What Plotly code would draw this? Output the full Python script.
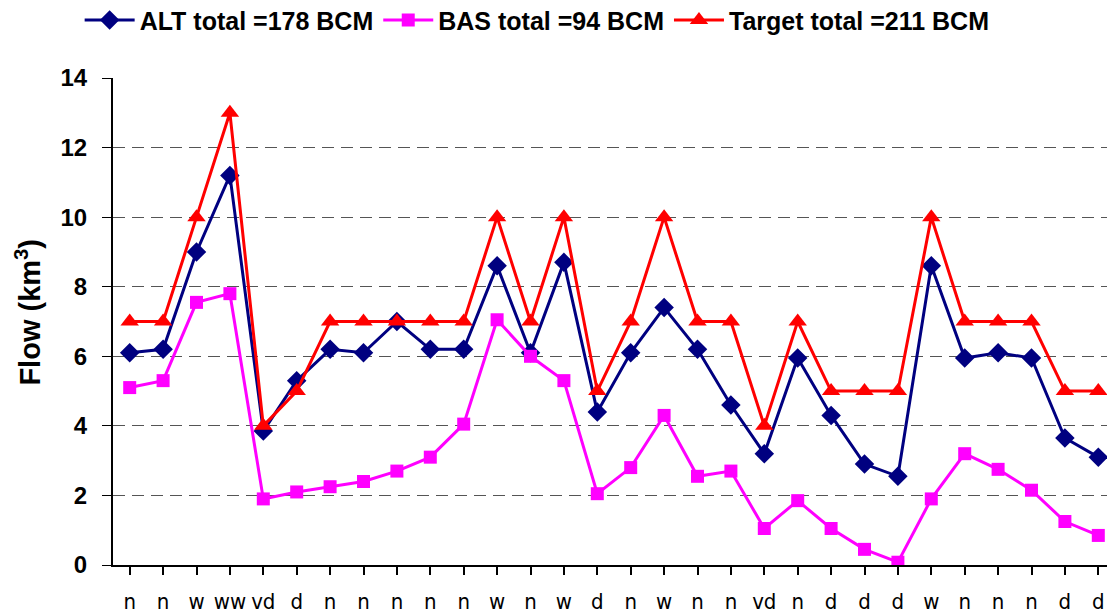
import plotly.graph_objects as go

categories = ["n", "n", "w", "ww", "vd", "d", "n", "n", "n", "n", "n", "w", "n", "w", "d",
              "n", "w", "n", "n", "vd", "n", "d", "d", "d", "w", "n", "n", "n", "d", "d"]
alt = [6.1, 6.2, 9.0, 11.2, 3.85, 5.3, 6.2, 6.1, 7.0, 6.2, 6.2, 8.6, 6.1, 8.7, 4.4,
       6.1, 7.4, 6.2, 4.6, 3.2, 5.95, 4.3, 2.9, 2.55, 8.6, 5.95, 6.1, 5.95, 3.65, 3.1]
bas = [5.1, 5.3, 7.55, 7.8, 1.9, 2.1, 2.25, 2.4, 2.7, 3.1, 4.05, 7.05, 6.0, 5.3, 2.05,
       2.8, 4.3, 2.55, 2.7, 1.05, 1.85, 1.05, 0.45, 0.08, 1.9, 3.2, 2.75, 2.15, 1.25, 0.85]
target = [7, 7, 10, 13, 4, 5, 7, 7, 7, 7, 7, 10, 7, 10, 5,
          7, 10, 7, 7, 4, 7, 5, 5, 5, 10, 7, 7, 7, 5, 5]
x = list(range(len(categories)))

FONT = "Liberation Sans, Arial, sans-serif"

fig = go.Figure()
fig.add_trace(go.Scatter(
    x=x, y=alt, mode="lines+markers", name="ALT total =178 BCM",
    line=dict(color="#000080", width=3),
    marker=dict(symbol="diamond", size=15, color="#000080")
))
fig.add_trace(go.Scatter(
    x=x, y=bas, mode="lines+markers", name="BAS total =94 BCM",
    line=dict(color="#ff00ff", width=3),
    marker=dict(symbol="square", size=13, color="#ff00ff")
))
fig.add_trace(go.Scatter(
    x=x, y=target, mode="lines+markers", name="Target total =211 BCM",
    line=dict(color="#ff0000", width=3),
    marker=dict(symbol="triangle-up", size=16, color="#ff0000")
))

# the page body has an 8px margin, so the figure is shrunk by that much
fig.update_layout(
    template="none",
    width=1107, height=607,
    margin=dict(l=105, r=0, t=70, b=50, autoexpand=False),
    paper_bgcolor="white", plot_bgcolor="white",
    font=dict(family=FONT, color="black"),
    showlegend=True,
    legend=dict(
        orientation="h", xref="container", yref="container",
        x=0.478, xanchor="center", y=0.98, yanchor="middle",
        font=dict(size=25, family=FONT, weight="bold"),
        itemwidth=50, bgcolor="rgba(0,0,0,0)",
    ),
    annotations=[dict(
        text="<b>Flow (km<sup>3</sup>)</b>", xref="paper", yref="paper",
        x=-0.085, y=0.52, xanchor="center", yanchor="middle", textangle=-90,
        showarrow=False, font=dict(size=29, family=FONT, color="black"),
    )],
)
fig.update_xaxes(
    range=[-0.5, len(categories) - 0.5], automargin=False,
    tickmode="array", tickvals=x, ticktext=categories, tickangle=0,
    tickson="boundaries", ticks="outside", ticklen=8, tickwidth=2, tickcolor="black",
    tickfont=dict(family="DejaVu Sans Condensed, DejaVu Sans", size=22, color="black"),
    ticklabelstandoff=8,
    showline=True, linecolor="black", linewidth=2,
    showgrid=False, zeroline=False,
)
fig.update_yaxes(
    range=[0, 14], dtick=2, automargin=False,
    ticks="outside", ticklen=9, tickwidth=1, tickcolor="black",
    tickfont=dict(size=24, family=FONT, weight="bold"),
    ticklabelstandoff=10,
    showline=True, linecolor="black", linewidth=2,
    showgrid=True, gridcolor="#555555", gridwidth=1, griddash="12px,7px",
    zeroline=False,
)

fig.write_html("out.html")
